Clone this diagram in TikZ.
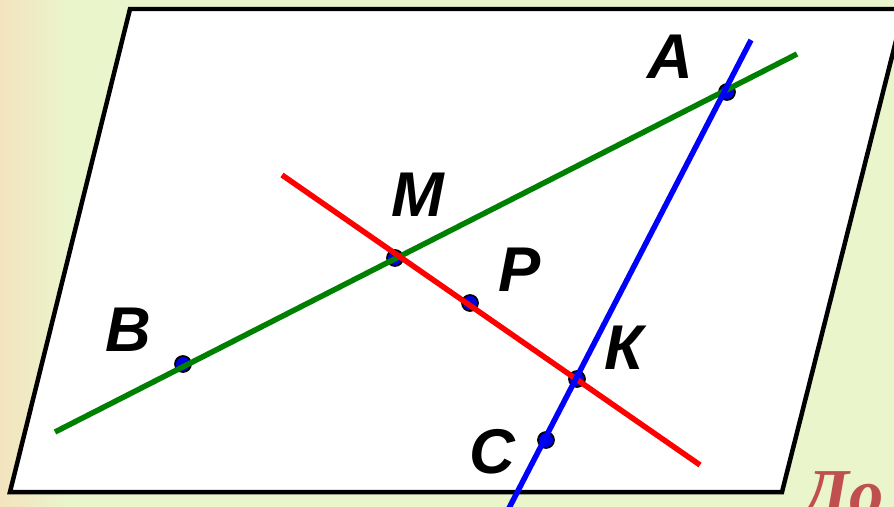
\documentclass[tikz,border=0pt]{standalone}
\usepackage{fontspec}
\setmainfont{Liberation Serif}
\setsansfont{Liberation Sans}
\usepackage{tikz}
\usetikzlibrary{positioning,calc}
\definecolor{bgtan}{RGB}{243,227,190}
\definecolor{bggrn}{RGB}{234,245,204}
\definecolor{lngrn}{RGB}{0,128,0}
\definecolor{lnred}{RGB}{255,0,0}
\definecolor{lnblu}{RGB}{0,0,255}
\definecolor{ptblu}{RGB}{0,0,230}
\definecolor{hdred}{RGB}{192,80,80}
\tikzset{
  plane/.style={draw=black, fill=white, line width=0.09cm, line join=miter},
  ln/.style={line width=0.11cm},
  pt/.style={circle, draw=black, fill=ptblu, line width=0.035cm,
    minimum size=0.32cm, inner sep=0pt},
  lbl/.style={font=\fontsize{36}{40}\selectfont\sffamily\bfseries\itshape,
    inner sep=0pt},
  head/.style={font=\fontsize{39}{44}\selectfont\rmfamily\bfseries\itshape,
    text=hdred, inner sep=0pt, anchor=base west}
}

\begin{document}
\begin{tikzpicture}[x=0.02cm,y=-0.02cm]
  \useasboundingbox (0,0) rectangle (894,507);
  \clip (0,0) rectangle (894,507);

  % background
  \fill[bggrn] (0,0) rectangle (894,507);
  \shade[left color=bgtan, right color=bggrn] (0,0) rectangle (70,507);

  % plane
  \draw[plane] (130,9) -- (904,9) -- (782,492) -- (10,492) -- cycle;

  % points
  \node[pt] (A) at (727,92) {};
  \node[pt] (M) at (395,258) {};
  \node[pt] (P) at (470,303) {};
  \node[pt] (K) at (577,379) {};
  \node[pt] (C) at (546,440) {};
  \node[pt] (B) at (183,364) {};

  % lines
  \coordinate (g1) at (55,432);
  \coordinate (g2) at (797,54);
  \coordinate (r1) at (282,175);
  \coordinate (r2) at (700,465);
  \coordinate (b1) at (751,40);
  \coordinate (b2) at (507,512);
  \draw[ln, lngrn] (g1) -- (g2);
  \draw[ln, lnred] (r1) -- (r2);
  \draw[ln, lnblu] (b1) -- (b2);

  % labels
  \node[lbl] (lA) at (670,57) {A};
  \node[lbl] (lM) at (418,195) {M};
  \node[lbl] (lP) at (520,270) {P};
  \node[lbl] (lB) at (128,330) {B};
  \node[lbl] (lK) at (624,348) {К};
  \node[lbl] (lC) at (492,452) {C};

  \node[head] (hd) at (802,516) {До};
\end{tikzpicture}
\end{document}
